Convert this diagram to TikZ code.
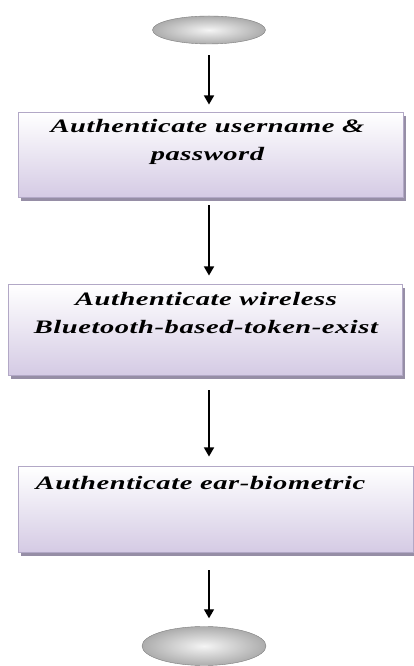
\documentclass[tikz,border=0pt]{standalone}
\usepackage{fontspec}
\usepackage{tikz}
\usetikzlibrary{arrows.meta,positioning,shapes.geometric,shadows}
\newfontfamily\stepfont{Liberation Serif}[FakeStretch=1.5,LetterSpace=3]
\definecolor{boxline}{RGB}{178,168,198}
\definecolor{boxfill}{RGB}{212,202,228}
\definecolor{boxshadow}{RGB}{150,142,166}
\definecolor{capline}{RGB}{125,125,125}

\begin{document}
\begin{tikzpicture}[x=1pt, y=1pt,
  stepbox/.style = {draw=boxline, line width=1pt, top color=white, bottom color=boxfill,
    general shadow={shadow xshift=3pt, shadow yshift=-3pt, fill=boxshadow}},
  steptext/.style = {align=center, inner sep=0pt,
    font=\stepfont\bfseries\itshape\fontsize{19}{28}\selectfont},
  endcap/.style = {draw=capline, ellipse, inner sep=0pt, shading=radial,
    inner color=gray!8, outer color=gray!65},
  arr/.style = {-{Triangle[width=10pt,length=9pt]}, line width=1.4pt}]
\useasboundingbox (0,0) rectangle (414,666);

\node[endcap, minimum width=113pt, minimum height=28pt] (start) at (209,636) {};

\node[stepbox, minimum width=385pt, minimum height=85pt] (auth1) at (210.5,510.5) {};
\node[steptext, below=7pt of auth1.north, xshift=-3pt] (auth1text) {Authenticate username \&\\password};

\node[stepbox, minimum width=394pt, minimum height=91pt] (auth2) at (205,335.5) {};
\node[steptext, below=8pt of auth2.north, xshift=1pt] (auth2text) {Authenticate wireless\\Bluetooth-based-token-exist};

\node[stepbox, minimum width=395pt, minimum height=86pt] (auth3) at (215.5,156) {};
\node[steptext, below=10pt of auth3.north, xshift=-15pt] (auth3text) {Authenticate ear-biometric};

\node[endcap, minimum width=124pt, minimum height=39pt] (stop) at (204,20) {};

% arrows down the chain
\draw[arr, shorten <=11pt, shorten >=8pt] (start) -- (start |- auth1.north);
\draw[arr, shorten <=7pt, shorten >=9pt] (auth1.south -| start) -- (start |- auth2.north);
\draw[arr, shorten <=14pt, shorten >=10pt] (auth2.south -| start) -- (start |- auth3.north);
\draw[arr, shorten <=17pt, shorten >=8pt] (auth3.south -| start) -- (start |- stop.north);
\end{tikzpicture}
\end{document}
